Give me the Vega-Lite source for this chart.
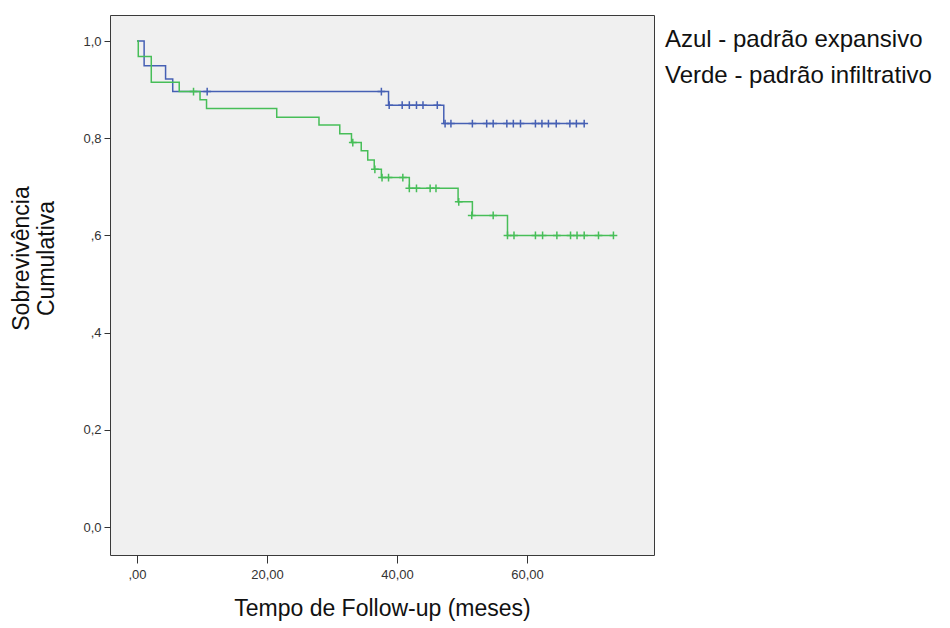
{
  "$schema": "https://vega.github.io/schema/vega-lite/v6.json",
  "width": 544,
  "height": 540,
  "autosize": {"type": "none"},
  "padding": {"left": 110, "top": 15, "right": 296, "bottom": 73},
  "background": "white",
  "config": {
    "font": "Liberation Sans",
    "view": {"fill": "#F0F0F0", "stroke": "#3a3a3a", "strokeWidth": 1},
    "axis": {
      "domain": false,
      "grid": false,
      "tickColor": "#333333",
      "labelColor": "#333333",
      "labelFontSize": 13,
      "labelFont": "Liberation Sans",
      "titleFont": "Liberation Sans",
      "titleFontWeight": "normal",
      "titleColor": "#111111"
    },
    "legend": {
      "labelFont": "Liberation Sans",
      "labelFontSize": 24,
      "labelColor": "#111111",
      "labelLimit": 0
    }
  },
  "datasets": {
    "curvas": [
      {"grupo": "Azul - padrão expansivo", "t": 0, "s": 1.0},
      {"grupo": "Azul - padrão expansivo", "t": 1.1, "s": 0.949},
      {"grupo": "Azul - padrão expansivo", "t": 4.4, "s": 0.922},
      {"grupo": "Azul - padrão expansivo", "t": 5.5, "s": 0.896},
      {"grupo": "Azul - padrão expansivo", "t": 38.7, "s": 0.868},
      {"grupo": "Azul - padrão expansivo", "t": 47.2, "s": 0.830},
      {"grupo": "Azul - padrão expansivo", "t": 68.8, "s": 0.830},
      {"grupo": "Verde - padrão infiltrativo", "t": 0, "s": 1.0},
      {"grupo": "Verde - padrão infiltrativo", "t": 0.2, "s": 0.968},
      {"grupo": "Verde - padrão infiltrativo", "t": 2.2, "s": 0.915},
      {"grupo": "Verde - padrão infiltrativo", "t": 6.5, "s": 0.896},
      {"grupo": "Verde - padrão infiltrativo", "t": 9.7, "s": 0.879},
      {"grupo": "Verde - padrão infiltrativo", "t": 10.7, "s": 0.861},
      {"grupo": "Verde - padrão infiltrativo", "t": 21.5, "s": 0.843},
      {"grupo": "Verde - padrão infiltrativo", "t": 28.0, "s": 0.827},
      {"grupo": "Verde - padrão infiltrativo", "t": 31.2, "s": 0.809},
      {"grupo": "Verde - padrão infiltrativo", "t": 33.0, "s": 0.791},
      {"grupo": "Verde - padrão infiltrativo", "t": 34.5, "s": 0.774},
      {"grupo": "Verde - padrão infiltrativo", "t": 35.5, "s": 0.755},
      {"grupo": "Verde - padrão infiltrativo", "t": 36.5, "s": 0.736},
      {"grupo": "Verde - padrão infiltrativo", "t": 37.6, "s": 0.719},
      {"grupo": "Verde - padrão infiltrativo", "t": 41.9, "s": 0.697},
      {"grupo": "Verde - padrão infiltrativo", "t": 49.4, "s": 0.669},
      {"grupo": "Verde - padrão infiltrativo", "t": 51.6, "s": 0.641},
      {"grupo": "Verde - padrão infiltrativo", "t": 57.0, "s": 0.600},
      {"grupo": "Verde - padrão infiltrativo", "t": 73.3, "s": 0.600}
    ],
    "censuras": [
      {"grupo": "Azul - padrão expansivo", "t": 10.8, "s": 0.896},
      {"grupo": "Azul - padrão expansivo", "t": 37.6, "s": 0.896},
      {"grupo": "Azul - padrão expansivo", "t": 38.8, "s": 0.868},
      {"grupo": "Azul - padrão expansivo", "t": 40.8, "s": 0.868},
      {"grupo": "Azul - padrão expansivo", "t": 41.9, "s": 0.868},
      {"grupo": "Azul - padrão expansivo", "t": 43.0, "s": 0.868},
      {"grupo": "Azul - padrão expansivo", "t": 44.0, "s": 0.868},
      {"grupo": "Azul - padrão expansivo", "t": 46.2, "s": 0.868},
      {"grupo": "Azul - padrão expansivo", "t": 47.4, "s": 0.830},
      {"grupo": "Azul - padrão expansivo", "t": 48.3, "s": 0.830},
      {"grupo": "Azul - padrão expansivo", "t": 51.6, "s": 0.830},
      {"grupo": "Azul - padrão expansivo", "t": 53.8, "s": 0.830},
      {"grupo": "Azul - padrão expansivo", "t": 54.8, "s": 0.830},
      {"grupo": "Azul - padrão expansivo", "t": 56.9, "s": 0.830},
      {"grupo": "Azul - padrão expansivo", "t": 57.9, "s": 0.830},
      {"grupo": "Azul - padrão expansivo", "t": 59.0, "s": 0.830},
      {"grupo": "Azul - padrão expansivo", "t": 61.3, "s": 0.830},
      {"grupo": "Azul - padrão expansivo", "t": 62.3, "s": 0.830},
      {"grupo": "Azul - padrão expansivo", "t": 63.3, "s": 0.830},
      {"grupo": "Azul - padrão expansivo", "t": 64.5, "s": 0.830},
      {"grupo": "Azul - padrão expansivo", "t": 66.6, "s": 0.830},
      {"grupo": "Azul - padrão expansivo", "t": 67.6, "s": 0.830},
      {"grupo": "Azul - padrão expansivo", "t": 68.8, "s": 0.830},
      {"grupo": "Verde - padrão infiltrativo", "t": 8.7, "s": 0.896},
      {"grupo": "Verde - padrão infiltrativo", "t": 33.2, "s": 0.791},
      {"grupo": "Verde - padrão infiltrativo", "t": 36.6, "s": 0.736},
      {"grupo": "Verde - padrão infiltrativo", "t": 37.7, "s": 0.719},
      {"grupo": "Verde - padrão infiltrativo", "t": 38.7, "s": 0.719},
      {"grupo": "Verde - padrão infiltrativo", "t": 40.9, "s": 0.719},
      {"grupo": "Verde - padrão infiltrativo", "t": 41.9, "s": 0.697},
      {"grupo": "Verde - padrão infiltrativo", "t": 43.0, "s": 0.697},
      {"grupo": "Verde - padrão infiltrativo", "t": 45.1, "s": 0.697},
      {"grupo": "Verde - padrão infiltrativo", "t": 46.0, "s": 0.697},
      {"grupo": "Verde - padrão infiltrativo", "t": 49.5, "s": 0.669},
      {"grupo": "Verde - padrão infiltrativo", "t": 51.5, "s": 0.641},
      {"grupo": "Verde - padrão infiltrativo", "t": 54.8, "s": 0.641},
      {"grupo": "Verde - padrão infiltrativo", "t": 57.0, "s": 0.600},
      {"grupo": "Verde - padrão infiltrativo", "t": 58.0, "s": 0.600},
      {"grupo": "Verde - padrão infiltrativo", "t": 61.3, "s": 0.600},
      {"grupo": "Verde - padrão infiltrativo", "t": 62.4, "s": 0.600},
      {"grupo": "Verde - padrão infiltrativo", "t": 64.6, "s": 0.600},
      {"grupo": "Verde - padrão infiltrativo", "t": 66.7, "s": 0.600},
      {"grupo": "Verde - padrão infiltrativo", "t": 67.7, "s": 0.600},
      {"grupo": "Verde - padrão infiltrativo", "t": 68.8, "s": 0.600},
      {"grupo": "Verde - padrão infiltrativo", "t": 71.0, "s": 0.600},
      {"grupo": "Verde - padrão infiltrativo", "t": 73.3, "s": 0.600}
    ]
  },
  "layer": [
    {
      "data": {"name": "curvas"},
      "mark": {"type": "line", "interpolate": "step-after", "strokeWidth": 1.5},
      "encoding": {
        "x": {
          "field": "t",
          "type": "quantitative",
          "scale": {"domain": [-4.15, 79.54], "nice": false, "zero": false},
          "axis": {
            "values": [0, 20, 40, 60],
            "labelExpr": "datum.value == 0 ? ',00' : replace(format(datum.value, '.2f'), '.', ',')",
            "tickSize": 8,
            "labelPadding": 5,
            "title": "Tempo de Follow-up (meses)",
            "titleFontSize": 23,
            "titleY": 60,
            "titleBaseline": "alphabetic"
          }
        },
        "y": {
          "field": "s",
          "type": "quantitative",
          "scale": {"domain": [-0.0576, 1.0535], "nice": false, "zero": false},
          "axis": {
            "values": [0, 0.2, 0.4, 0.6, 0.8, 1.0],
            "labelExpr": "datum.value == 0.6 ? ',6' : datum.value == 0.4 ? ',4' : replace(format(datum.value, '.1f'), '.', ',')",
            "tickSize": 6,
            "labelPadding": 3,
            "title": ["Sobrevivência", "Cumulativa"],
            "titleFontSize": 23,
            "titleLineHeight": 25,
            "titleAngle": -90,
            "titleAlign": "center",
            "titleBaseline": "middle",
            "titleX": -89,
            "titleY": 243
          }
        },
        "color": {
          "field": "grupo",
          "type": "nominal",
          "scale": {
            "domain": ["Azul - padrão expansivo", "Verde - padrão infiltrativo"],
            "range": ["#4660B4", "#47BE58"]
          },
          "legend": {
            "title": null,
            "orient": "none",
            "legendX": 531,
            "legendY": 13,
            "padding": 0,
            "symbolSize": 0,
            "symbolOpacity": 0,
            "symbolStrokeWidth": 0,
            "labelOffset": 0,
            "rowPadding": 12
          }
        }
      }
    },
    {
      "data": {"name": "censuras"},
      "mark": {"type": "point", "shape": "M-1,0L1,0M0,-1L0,1", "size": 60, "strokeWidth": 1.5, "filled": false, "opacity": 1},
      "encoding": {
        "x": {"field": "t", "type": "quantitative"},
        "y": {"field": "s", "type": "quantitative"},
        "color": {"field": "grupo", "type": "nominal"}
      }
    }
  ]
}
